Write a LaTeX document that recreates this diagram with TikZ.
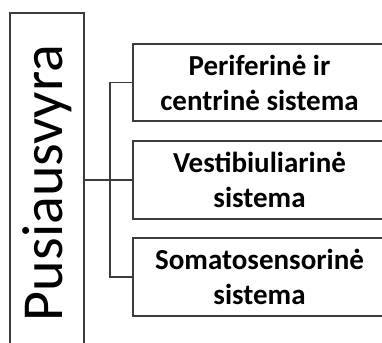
\documentclass[tikz,border=0pt]{standalone}
\usepackage{fontspec}
\setmainfont{Carlito}
\definecolor{edge}{HTML}{3C3C3C}
\tikzset{
  box/.style={draw=edge, line width=1.4pt, fill=white, rectangle, inner sep=0pt},
  sub/.style={box, minimum width=253pt, align=center, font=\bfseries\fontsize{29}{35}\selectfont},
  link/.style={draw=edge, line width=1.4pt}
}
\begin{document}
\begin{tikzpicture}[x=1pt,y=-1pt]
\useasboundingbox (0,0) rectangle (382,342);
\clip (0,0) rectangle (382,342);
\node[box, rotate=90, minimum width=340pt, minimum height=74pt, font=\fontsize{58}{70}\selectfont] (root) at (47,183) {Pusiausvyra};
\node[sub, minimum height=77pt] (b1) at (259.5,82.5) {Periferinė ir\\centrinė sistema};
\node[sub, minimum height=78pt] (b2) at (259.5,180) {Vestibiuliarinė\\sistema};
\node[sub, minimum height=78pt] (b3) at (259.5,277) {Somatosensorinė\\sistema};
\coordinate (t) at (110,0);
\draw[link] (b2.west) -- (b2.west -| root.south);
\draw[link] (b1.west) -- (b1.west -| t) -- (b3.west -| t) -- (b3.west);
\end{tikzpicture}
\end{document}
